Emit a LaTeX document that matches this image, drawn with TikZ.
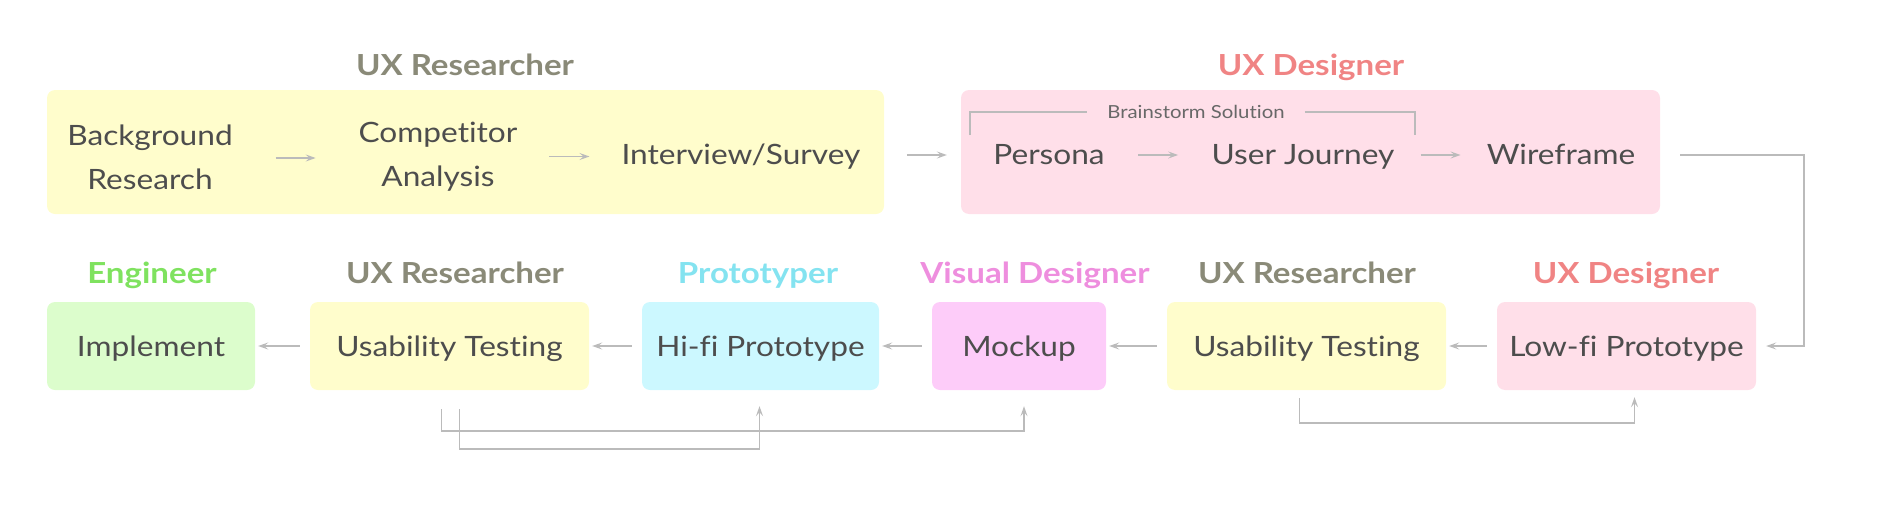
\documentclass[tikz,border=0pt]{standalone}
\usepackage{fontspec}
\setmainfont{Lato}[FakeStretch=1.13, Ligatures=NoCommon]
\newfontfamily\ttlfont{Lato}[FakeStretch=1.14, Ligatures=NoCommon]
\usetikzlibrary{arrows.meta,calc,positioning}
\definecolor{fyel}{HTML}{FFFDCC}
\definecolor{fpink}{HTML}{FFDFE9}
\definecolor{fgreen}{HTML}{DCFDCC}
\definecolor{fcyan}{HTML}{CCF8FF}
\definecolor{fmag}{HTML}{FDCCF9}
\definecolor{tgray}{HTML}{8A8A78}
\definecolor{tsalmon}{HTML}{F08484}
\definecolor{tgreen}{HTML}{7FE25F}
\definecolor{tcyan}{HTML}{84E3F0}
\definecolor{tpink}{HTML}{EE8EDE}
\definecolor{txt}{HTML}{4D4D4D}
\definecolor{lnc}{HTML}{BBBBBB}
\tikzset{
  panel/.style={draw=none, rounded corners=8pt},
  lbltwo/.style={text=txt, font=\fontsize{28}{44}\selectfont, align=center, inner sep=0pt},
  lbl/.style={lbltwo, text height=20pt, text depth=0pt},
  rolet/.style={font=\ttlfont\fontsize{29}{33}\selectfont\bfseries, inner sep=0pt, text height=20pt, text depth=0pt},
  arr/.style={draw=lnc, line width=1.5pt, -{Stealth[length=10pt,width=7pt,inset=4pt]}},
  brk/.style={draw=lnc, line width=1.5pt},
}
\begin{document}
\begin{tikzpicture}[x=1pt,y=-1pt]
\useasboundingbox (0,0) rectangle (1895,506);
% top row panels
\fill[fyel, panel] (47,90) rectangle (884,214);
\fill[fpink, panel] (961,90) rectangle (1660,214);
\coordinate (D1e) at (1660,152);
\node[rolet, text=tgray] (t1) at (465,65) {UX Researcher};
\node[rolet, text=tsalmon] (t2) at (1311,65) {UX Designer};
% top texts
\node[lbltwo] (bg) at (150,157) {Background\\Research};
\node[lbltwo] (comp) at (438,157) {Competitor\\Analysis};
\node[lbl] (intv) at (741,154) {Interview/Survey};
\node[lbl] (pers) at (1049,154) {Persona};
\node[lbl] (uj) at (1303,154) {User Journey};
\node[lbl] (wire) at (1561,154) {Wireframe};
% brainstorm bracket
\node[text=txt!85, font=\fontsize{18}{22}\selectfont, inner xsep=20pt, inner ysep=0pt] (bs) at (1196,112) {Brainstorm Solution};
\draw[brk] (970,135) |- (bs.west);
\draw[brk] (bs.east) -| (1415,135);
% top arrows
\foreach \a/\b in {bg/comp, comp/intv, intv/pers, pers/uj, uj/wire}{
  \draw[arr] ($(\a.east)!.5!(\b.west)+(-20,1)$) -- ($(\a.east)!.5!(\b.west)+(20,1)$);
}
% bottom row boxes
\node[panel, fill=fgreen, minimum width=208pt, minimum height=88pt, lbl] (imp) at (151,346) {Implement};
\node[panel, fill=fyel, minimum width=279pt, minimum height=88pt, lbl] (ut1) at (449.5,346) {Usability Testing};
\node[panel, fill=fcyan, minimum width=237pt, minimum height=88pt, lbl] (hifi) at (760.5,346) {Hi-fi Prototype};
\node[panel, fill=fmag, minimum width=174pt, minimum height=88pt, lbl] (mock) at (1019,346) {Mockup};
\node[panel, fill=fyel, minimum width=279pt, minimum height=88pt, lbl] (ut2) at (1306.5,346) {Usability Testing};
\node[panel, fill=fpink, minimum width=259pt, minimum height=88pt, lbl] (lofi) at (1626.5,346) {Low-fi Prototype};
% bottom titles
\node[rolet, text=tgreen] at (152,273) {Engineer};
\node[rolet, text=tgray] at (455,273) {UX Researcher};
\node[rolet, text=tcyan] at (758,273) {Prototyper};
\node[rolet, text=tpink] at (1035,273) {Visual Designer};
\node[rolet, text=tgray] at (1307,273) {UX Researcher};
\node[rolet, text=tsalmon] at (1626,273) {UX Designer};
% bottom row arrows (leftward)
\foreach \a/\b in {lofi/ut2, ut2/mock, mock/hifi, hifi/ut1, ut1/imp}{
  \draw[arr, shorten <=10pt, shorten >=3pt] (\a.west) -- (\b.east);
}
% wireframe to low-fi
\draw[arr, shorten >=10pt] ($(D1e|-wire)+(20,1)$) -| ($(lofi.east)+(48,0)$) -- (lofi.east);
% feedback loops
\draw[arr, shorten <=8pt, shorten >=7pt] ($(ut2.south)+(-7,0)$) |- ($(lofi.south)+(8,33)$) -- ($(lofi.south)+(8,0)$);
\draw[arr, shorten <=19pt, shorten >=16pt] ($(ut1.south)+(-8,0)$) |- ($(mock.south)+(5,41)$) -- ($(mock.south)+(5,0)$);
\draw[arr, shorten <=19pt, shorten >=16pt] ($(ut1.south)+(10,0)$) |- ($(hifi.south)+(-1,59)$) -- ($(hifi.south)+(-1,0)$);
\end{tikzpicture}
\end{document}
